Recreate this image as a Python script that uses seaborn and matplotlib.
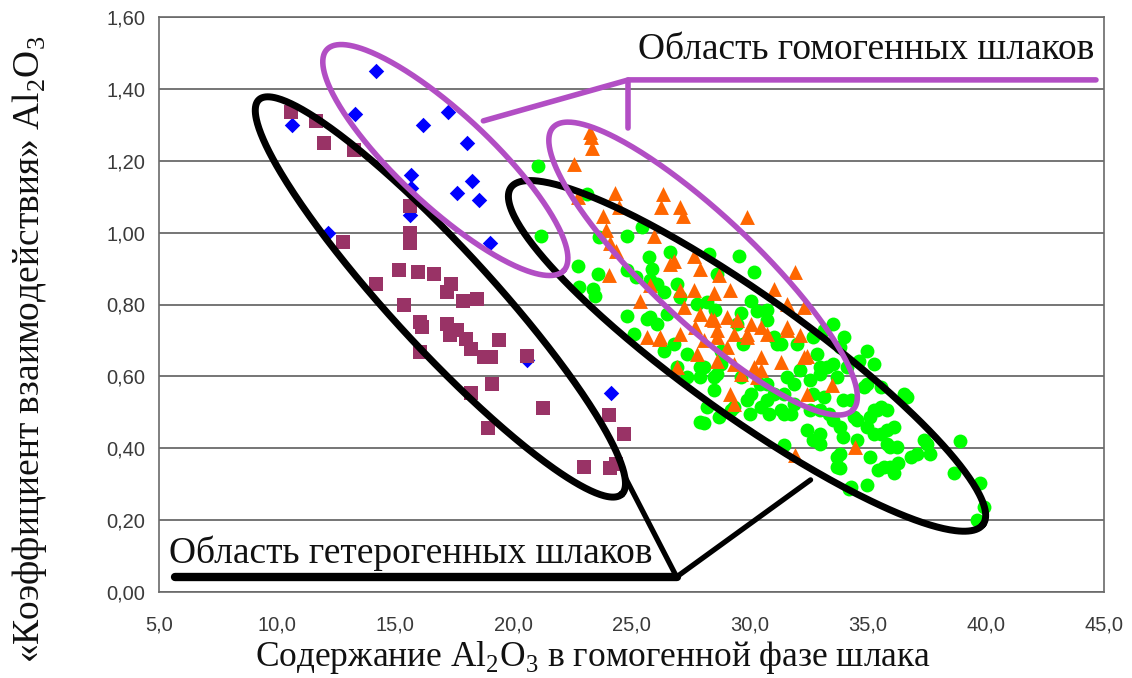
import numpy as np
import pandas as pd
import matplotlib
matplotlib.use("Agg")
import matplotlib.pyplot as plt
from matplotlib.ticker import FixedLocator, FuncFormatter
import seaborn as sns

# ---- data: Al2O3 content in the homogeneous phase vs. interaction coefficient ----
blue_x = [10.63, 13.30, 14.20, 16.18, 17.23, 18.04, 15.67, 18.24, 17.63, 18.54,
          15.67, 15.63, 12.14, 18.99, 24.14, 20.56]
blue_y = [1.30, 1.33, 1.45, 1.30, 1.335, 1.25, 1.16, 1.145, 1.11, 1.09,
          1.125, 1.05, 1.00, 0.97, 0.555, 0.645]

maroon_x = [10.58, 11.64, 11.99, 13.25, 15.63, 15.63, 15.63, 12.79, 15.17, 14.20,
            15.98, 16.63, 17.38, 17.18, 17.88, 18.44, 15.37, 16.03, 16.13, 17.18,
            17.63, 17.98, 17.33, 18.19, 18.74, 19.04, 19.39, 16.03, 20.56, 19.09,
            18.19, 21.26, 18.94, 24.04, 24.69, 22.98, 24.09, 24.34]
maroon_y = [1.335, 1.31, 1.25, 1.23, 1.075, 1.00, 0.97, 0.975, 0.895, 0.857,
            0.89, 0.885, 0.857, 0.834, 0.81, 0.816, 0.80, 0.75, 0.737, 0.746,
            0.728, 0.705, 0.714, 0.677, 0.654, 0.654, 0.70, 0.668, 0.658, 0.578,
            0.554, 0.513, 0.457, 0.492, 0.439, 0.348, 0.344, 0.357]

green_x = [21.06, 21.16, 23.11, 25.45, 24.82, 23.61, 22.73, 23.58, 24.82, 25.17,
           25.75, 25.87, 26.64, 22.78, 23.38, 23.47, 26.08, 26.36, 26.92, 28.27,
           29.54, 30.18, 28.62, 25.80, 24.82, 25.66, 25.10, 27.07, 27.77, 28.19,
           30.04, 30.32, 26.50, 26.08, 26.36, 26.78, 27.35, 26.92, 27.35, 27.91,
           28.48, 28.48, 27.91, 28.69, 29.32, 29.90, 30.47, 31.03, 31.45, 31.87,
           32.70, 32.99, 33.55, 32.99, 33.55, 32.99, 34.27, 34.41, 34.97, 35.40,
           35.54, 33.84, 33.70, 34.27, 34.97, 35.96, 35.96, 35.25, 31.45, 32.43,
           32.99, 29.62, 30.75, 31.45, 33.13, 33.70, 34.12, 33.28, 32.85, 33.84,
           34.62, 34.97, 35.54, 35.82, 35.25, 34.55, 33.84, 32.70, 33.70, 33.84,
           35.11, 35.68, 36.10, 36.24, 28.07, 31.31, 30.75, 31.87, 32.57, 31.31,
           32.01, 32.70, 33.13, 33.55, 33.98, 34.97, 30.75, 31.03, 29.47, 28.77,
           28.07, 28.62, 30.04, 34.83, 35.11, 35.82, 37.37, 37.65, 36.81, 36.10,
           38.63, 39.77, 39.91, 39.63, 36.52, 35.54, 36.66, 37.51, 37.09, 38.89,
           28.19, 25.80, 27.91, 34.20, 28.52, 29.62, 30.74, 31.14, 29.72, 28.77,
           30.44, 31.59, 32.14, 32.99, 33.95, 32.54, 31.74, 30.84, 30.03, 29.22,
           33.35, 33.95, 34.56, 35.26, 35.82, 36.27, 35.42]
green_y = [1.186, 0.99, 1.107, 1.017, 0.992, 0.987, 0.908, 0.885, 0.897, 0.876,
           0.931, 0.899, 0.945, 0.848, 0.843, 0.825, 0.857, 0.834, 0.857, 0.94,
           0.936, 0.89, 0.885, 0.867, 0.769, 0.76, 0.719, 0.82, 0.802, 0.806,
           0.811, 0.783, 0.774, 0.746, 0.672, 0.691, 0.663, 0.626, 0.598, 0.626,
           0.598, 0.561, 0.473, 0.487, 0.515, 0.533, 0.515, 0.552, 0.496, 0.524,
           0.552, 0.626, 0.635, 0.506, 0.478, 0.441, 0.533, 0.487, 0.459, 0.506,
           0.441, 0.385, 0.348, 0.293, 0.297, 0.348, 0.404, 0.635, 0.408, 0.45,
           0.413, 0.598, 0.533, 0.552, 0.543, 0.598, 0.626, 0.626, 0.663, 0.681,
           0.644, 0.58, 0.57, 0.506, 0.506, 0.478, 0.459, 0.422, 0.376, 0.344,
           0.376, 0.348, 0.459, 0.404, 0.469, 0.506, 0.58, 0.58, 0.589, 0.691,
           0.691, 0.709, 0.728, 0.746, 0.709, 0.672, 0.756, 0.709, 0.746, 0.672,
           0.626, 0.607, 0.552, 0.57, 0.487, 0.45, 0.422, 0.385, 0.376, 0.33,
           0.33, 0.302, 0.237, 0.20, 0.552, 0.515, 0.543, 0.413, 0.385, 0.42,
           0.515, 0.765, 0.598, 0.288, 0.785, 0.776, 0.785, 0.69, 0.69, 0.635,
           0.58, 0.598, 0.617, 0.607, 0.533, 0.506, 0.496, 0.496, 0.496, 0.506,
           0.496, 0.432, 0.422, 0.441, 0.413, 0.358, 0.339]

orange_x = [23.28, 23.33, 23.23, 22.56, 22.73, 24.32, 24.46, 23.78, 26.35, 26.25,
            27.07, 27.16, 25.95, 23.90, 24.11, 24.34, 26.64, 27.63, 27.91, 24.04,
            25.80, 27.07, 27.63, 28.48, 29.90, 31.94, 28.69, 26.78, 25.37, 29.19,
            31.03, 31.59, 32.29, 27.21, 27.91, 28.48, 29.04, 29.47, 30.04, 25.66,
            26.15, 27.07, 27.70, 28.62, 29.32, 29.90, 30.75, 31.59, 32.14, 28.07,
            29.04, 30.47, 31.31, 32.29, 29.32, 30.18, 27.77, 28.62, 30.32, 29.19,
            32.43, 33.49, 34.48, 31.94, 30.47, 29.62, 29.32, 28.35, 30.47, 28.62,
            29.90, 31.59, 32.43, 26.92, 26.22]
orange_y = [1.265, 1.235, 1.28, 1.19, 1.10, 1.11, 1.07, 1.047, 1.107, 1.07,
            1.07, 1.045, 0.99, 1.006, 0.97, 0.95, 0.913, 0.936, 0.90, 0.883,
            0.853, 0.839, 0.839, 0.832, 1.043, 0.89, 0.881, 0.922, 0.811, 0.839,
            0.843, 0.802, 0.793, 0.793, 0.774, 0.756, 0.765, 0.756, 0.746, 0.709,
            0.705, 0.719, 0.737, 0.728, 0.719, 0.719, 0.719, 0.728, 0.714, 0.70,
            0.681, 0.654, 0.64, 0.654, 0.635, 0.626, 0.663, 0.644, 0.598, 0.552,
            0.552, 0.575, 0.404, 0.381, 0.617, 0.607, 0.524, 0.76, 0.737, 0.709,
            0.709, 0.737, 0.658, 0.626, 0.709]

x_ticks = [5, 10, 15, 20, 25, 30, 35, 40, 45]
y_ticks = [0.0, 0.2, 0.4, 0.6, 0.8, 1.0, 1.2, 1.4, 1.6]

x_title = "Содержание Al$_\\mathregular{2}$O$_\\mathregular{3}$ в гомогенной фазе шлака"
y_title = "«Коэффициент взаимодействия» Al$_\\mathregular{2}$O$_\\mathregular{3}$"
homog_label = "Область гомогенных шлаков"
heterog_label = "Область гетерогенных шлаков"

# ---- style ----
sns.set_theme(style="white")
plt.rcParams["font.family"] = ["Liberation Sans", "DejaVu Sans"]
plt.rcParams["mathtext.fontset"] = "custom"
plt.rcParams["mathtext.rm"] = "Liberation Serif"

W, H = 1132, 678
fig = plt.figure(figsize=(W / 100, H / 100), dpi=100)
ax_left, ax_bottom, ax_w, ax_h = 159 / W, 86 / H, 945 / W, 575 / H
ax = fig.add_axes([ax_left, ax_bottom, ax_w, ax_h])

frames = [
    pd.DataFrame({"x": blue_x, "y": blue_y, "s": "blue"}),
    pd.DataFrame({"x": maroon_x, "y": maroon_y, "s": "maroon"}),
    pd.DataFrame({"x": green_x, "y": green_y, "s": "green"}),
    pd.DataFrame({"x": orange_x, "y": orange_y, "s": "orange"}),
]
styles = {
    "blue": dict(color="#0000FF", marker="D", s=62),
    "maroon": dict(color="#993366", marker="s", s=95),
    "green": dict(color="#00FF00", marker="o", s=100),
    "orange": dict(color="#FF6600", marker="^", s=115),
}
for z, df in enumerate(frames):
    st = styles[df["s"].iloc[0]]
    sns.scatterplot(data=df, x="x", y="y", ax=ax, color=st["color"],
                    marker=st["marker"], s=st["s"], linewidth=0,
                    zorder=3 + z, legend=False)

ax.set_xlim(5, 45)
ax.set_ylim(0, 1.6)
ax.xaxis.set_major_locator(FixedLocator(x_ticks))
ax.yaxis.set_major_locator(FixedLocator(y_ticks))
ax.xaxis.set_major_formatter(FuncFormatter(lambda v, p: f"{v:.1f}".replace(".", ",")))
ax.yaxis.set_major_formatter(FuncFormatter(lambda v, p: f"{v:.2f}".replace(".", ",")))
ax.tick_params(axis="both", direction="out", length=5, width=1.2, color="#555555",
               labelsize=14.5, labelcolor="#3a3a3a", pad=5)
ax.tick_params(axis="x", pad=12)
ax.set_xlabel("")
ax.set_ylabel("")
ax.grid(axis="y", color="#505050", linewidth=1.1, zorder=1)
ax.grid(axis="x", visible=False)
for side in ["left", "bottom", "right", "top"]:
    ax.spines[side].set_color("#6a6a6a")
    ax.spines[side].set_linewidth(1.2)

# ---- outlined regions drawn as rotated ellipses (sizes in pixels) ----
px_x = ax_w * W / 40.0
px_y = ax_h * H / 1.6


def ring(cx, cy, a, b, angle_deg, color, lw):
    t = np.linspace(0, 2 * np.pi, 400)
    th = np.deg2rad(angle_deg)
    dx = a * np.cos(t) * np.cos(th) - b * np.sin(t) * np.sin(th)
    dy = a * np.cos(t) * np.sin(th) + b * np.sin(t) * np.cos(th)
    ax.plot(cx + dx / px_x, cy + dy / px_y, color=color, lw=lw, zorder=10,
            solid_capstyle="round", clip_on=False)


black = "#000000"
purple = "#B24EC4"
ring(16.91, 0.821, 268, 50, -47.4, black, 5.0)
ring(29.89, 0.657, 290, 60, -35.5, black, 5.0)
ring(17.12, 1.202, 162, 46, -43.0, purple, 4.0)
ring(28.03, 0.900, 206, 53, -43.3, purple, 4.0)

# pointer lines for the region labels
ax.plot([18.73, 24.87, 44.66], [1.311, 1.425, 1.425], color=purple, lw=4.0,
        zorder=10, solid_capstyle="round", solid_joinstyle="round", clip_on=False)
ax.plot([24.87, 24.87], [1.425, 1.291], color=purple, lw=4.0, zorder=10,
        solid_capstyle="round", clip_on=False)
ax.plot([5.68, 26.91], [0.042, 0.042], color=black, lw=6.0, zorder=10,
        solid_capstyle="round", clip_on=False)
ax.plot([24.75, 26.91, 32.58], [0.317, 0.042, 0.312], color=black, lw=3.8,
        zorder=10, solid_capstyle="round", solid_joinstyle="miter", clip_on=False)

serif = ["Liberation Serif", "DejaVu Serif"]
ax.text(34.92, 1.510, homog_label, ha="center", va="center", fontsize=27,
        family=serif, color="#111111", zorder=12)
ax.text(15.64, 0.108, heterog_label, ha="center", va="center", fontsize=27,
        family=serif, color="#111111", zorder=12)

fig.text(593 / W, 1 - 657 / H, x_title, ha="center", va="center", fontsize=25.5,
         family=serif, color="#111111")
fig.text(30 / W, 1 - 349 / H, y_title, ha="center", va="center", fontsize=27,
         rotation=90, family=serif, color="#111111")

fig.savefig("out.png", dpi=100)
